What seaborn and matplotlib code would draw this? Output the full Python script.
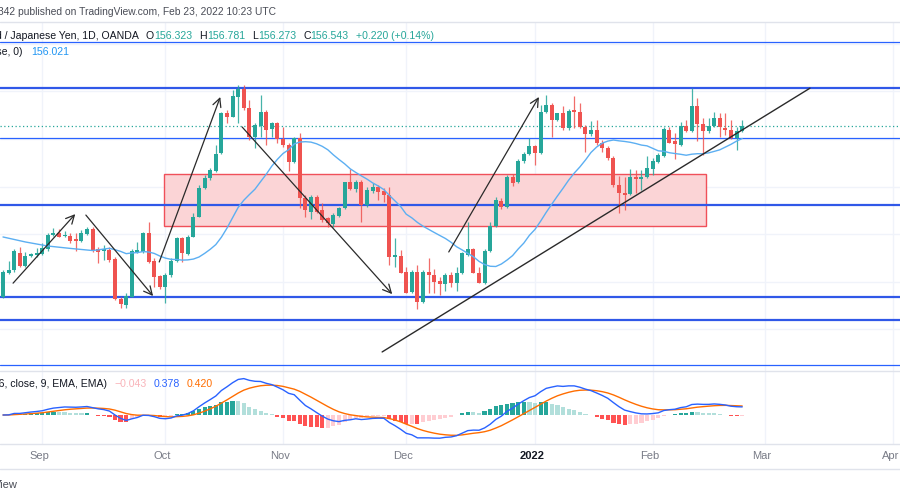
import numpy as np
import pandas as pd
import matplotlib.pyplot as plt
import matplotlib.transforms as mtransforms
from matplotlib.lines import Line2D
from matplotlib.patches import Rectangle
import seaborn as sns

# daily candles GBP/JPY, 23 Aug 2021 -> 23 Feb 2022
opens = [149.37, 150.38, 150.49, 151.22, 150.66, 151.08, 151.12, 151.16, 151.36, 151.96,
         152.03, 151.92, 151.92, 151.78, 151.72, 152.00, 152.20, 151.37, 151.29, 151.33,
         150.94, 149.26, 149.02, 149.37, 151.26, 151.26, 152.03, 150.87, 150.25, 149.76,
         150.28, 150.88, 151.82, 151.16, 151.89, 152.73, 153.93, 154.34, 154.66, 155.39,
         157.10, 156.93, 157.77, 158.08, 157.28, 156.09, 156.54, 157.14, 156.40, 156.65,
         155.98, 155.74, 155.04, 156.02, 153.50, 152.94, 153.57, 153.01, 152.66, 152.42,
         152.76, 153.08, 154.17, 153.88, 154.17, 153.22, 153.82, 153.96, 153.81, 153.64,
         151.05, 151.08, 150.42, 149.58, 150.42, 149.16, 150.42, 150.28, 150.03, 149.90,
         150.28, 149.93, 150.35, 151.12, 151.36, 150.38, 149.96, 151.30, 152.34, 153.40,
         153.15, 154.41, 154.20, 155.08, 155.36, 155.70, 155.42, 157.14, 157.42, 156.79,
         157.07, 156.44, 157.21, 157.14, 156.51, 156.20, 156.37, 155.84, 155.60, 155.18,
         154.06, 153.71, 153.68, 154.41, 154.32, 154.38, 154.72, 155.04, 155.28, 156.37,
         155.91, 155.74, 156.54, 156.34, 157.38, 156.61, 156.34, 156.55, 156.86, 156.47,
         156.37, 156.02, 156.323]
highs = [150.49, 150.88, 151.36, 151.47, 151.26, 151.22, 151.40, 151.61, 152.06, 152.24,
         152.20, 152.13, 152.03, 152.03, 152.17, 152.28, 152.31, 151.47, 151.54, 151.47,
         151.05, 149.37, 149.51, 151.36, 151.68, 152.10, 152.52, 150.98, 150.28, 150.35,
         150.98, 151.89, 151.89, 151.96, 152.87, 154.06, 154.48, 154.77, 155.74, 157.14,
         157.21, 158.05, 158.26, 158.26, 157.63, 156.65, 157.84, 157.21, 156.72, 156.72,
         156.51, 155.81, 156.09, 156.26, 153.64, 153.64, 153.64, 153.29, 152.73, 152.87,
         153.15, 154.20, 154.72, 154.27, 154.27, 153.99, 154.13, 154.06, 153.92, 153.99,
         151.82, 151.33, 150.63, 150.49, 150.70, 150.49, 150.98, 150.52, 150.18, 150.38,
         150.42, 150.63, 151.26, 152.52, 151.40, 150.63, 151.36, 152.52, 153.57, 153.50,
         154.48, 154.52, 155.14, 155.46, 156.02, 155.74, 157.42, 157.84, 157.49, 157.10,
         157.38, 157.24, 157.80, 157.52, 156.58, 156.76, 156.79, 155.95, 155.70, 155.28,
         154.44, 154.41, 154.72, 154.69, 154.69, 155.28, 155.18, 155.39, 156.51, 156.51,
         156.23, 156.72, 156.79, 158.12, 157.70, 156.86, 156.86, 157.14, 157.07, 157.07,
         156.79, 156.51, 156.781]
lows = [149.30, 150.32, 150.42, 150.60, 150.60, 151.02, 151.05, 151.12, 151.30, 151.92,
        151.86, 151.88, 151.61, 151.30, 151.68, 151.96, 151.26, 150.77, 150.91, 150.84,
        149.23, 148.88, 148.88, 149.34, 151.22, 151.19, 150.77, 149.79, 149.68, 149.12,
        150.21, 150.84, 150.84, 151.12, 151.86, 152.70, 153.89, 154.27, 154.62, 155.36,
        156.65, 156.90, 156.65, 157.21, 155.95, 155.60, 156.09, 155.74, 156.09, 155.81,
        155.67, 154.66, 155.00, 153.08, 152.73, 152.62, 152.87, 152.52, 152.31, 152.31,
        152.70, 153.04, 153.85, 153.78, 152.52, 153.15, 153.71, 153.43, 153.36, 150.70,
        150.63, 150.35, 149.51, 149.51, 148.84, 149.12, 149.51, 149.51, 149.44, 149.62,
        149.79, 149.62, 150.32, 151.08, 150.35, 149.93, 149.90, 151.26, 152.28, 153.04,
        153.08, 154.02, 154.13, 154.97, 155.31, 154.90, 155.36, 157.10, 156.09, 156.75,
        156.37, 156.37, 156.44, 156.44, 155.46, 156.12, 155.74, 155.46, 155.11, 153.96,
        152.90, 153.01, 153.64, 153.74, 153.85, 154.34, 154.48, 155.00, 155.25, 155.81,
        155.14, 155.70, 156.30, 156.30, 155.91, 155.32, 156.26, 156.51, 156.06, 156.16,
        155.98, 155.53, 156.273]
closes = [150.42, 150.49, 151.30, 150.66, 151.08, 151.16, 151.19, 151.40, 151.96, 152.03,
          151.89, 151.96, 151.72, 151.70, 152.03, 152.20, 151.33, 151.26, 151.38, 150.91,
          149.26, 149.06, 149.40, 151.29, 151.33, 152.03, 150.84, 150.21, 149.76, 150.28,
          150.87, 151.82, 151.19, 151.89, 152.73, 153.93, 154.35, 154.69, 155.36, 157.10,
          156.93, 157.80, 158.08, 157.28, 156.09, 156.58, 157.14, 156.37, 156.65, 155.98,
          155.74, 155.04, 156.02, 153.50, 153.01, 153.57, 152.94, 152.59, 152.45, 152.80,
          153.08, 154.17, 153.88, 154.20, 153.22, 153.85, 153.99, 153.78, 153.64, 151.05,
          151.12, 150.38, 149.54, 150.42, 149.16, 150.42, 150.28, 149.97, 149.90, 150.28,
          149.93, 150.38, 151.19, 151.36, 150.38, 149.96, 151.30, 152.34, 153.43, 153.15,
          154.41, 154.16, 155.08, 155.36, 155.70, 155.42, 157.14, 157.42, 156.79, 157.07,
          156.44, 157.18, 157.13, 156.51, 156.20, 156.37, 155.84, 155.60, 155.18, 154.06,
          153.71, 153.64, 154.38, 154.32, 154.41, 154.76, 155.08, 155.32, 156.40, 155.84,
          155.77, 156.54, 156.34, 157.38, 156.61, 156.34, 156.55, 156.86, 156.51, 156.37,
          156.02, 156.34, 156.543]

# MA(20) before 20 bars exist
ma_early_idx = [0, 4, 8, 12, 16]
ma_early = [151.88, 151.67, 151.50, 151.40, 151.31]

# drawings (bar index, price)
levels_thick = [158.13, 153.22, 149.36, 148.39]
levels_thin = [160.07, 156.04, 146.50]
zone_x = [28.75, 125.5]
zone_y = [152.34, 154.52]
trend_x = [67.7, 144.1]
trend_y = [147.05, 158.13]
arrows = [((1.8, 149.94), (12.9, 152.84)),
          ((14.8, 152.80), (26.8, 149.40)),
          ((27.9, 150.83), (38.8, 157.76)),
          ((42.7, 156.50), (69.5, 149.48)),
          ((79.6, 151.25), (95.7, 157.76))]

month_labels = ["Sep", "Oct", "Nov", "Dec", "2022", "Feb", "Mar", "Apr"]

df = pd.DataFrame({"open": opens, "high": highs, "low": lows, "close": closes})
df["idx"] = np.arange(len(df))
n = len(df)

df["ma"] = df["close"].rolling(20).mean()
ema12 = df["close"].ewm(span=12, adjust=False).mean()
ema26 = df["close"].ewm(span=26, adjust=False).mean()
df["macd"] = ema12 - ema26
df["signal"] = df["macd"].ewm(span=9, adjust=False).mean()
df["hist"] = df["macd"] - df["signal"]

dates = pd.bdate_range("2021-08-23", periods=n + 60)
month_pos = []
for k in range(1, len(dates)):
    if dates[k].month != dates[k - 1].month:
        month_pos.append(k)
month_pos = month_pos[:len(month_labels)]

sns.set_theme(style="white")
plt.rcParams["font.family"] = ["Liberation Sans", "DejaVu Sans"]

GREEN = "#26a69a"
RED = "#ef5350"
GRID = "#f0f3fa"
TXT = "#131722"

fig = plt.figure(figsize=(9, 5), dpi=100)
fig.patch.set_facecolor("white")
W, H = 900.0, 500.0


def fpos(x, y):
    return x / W, 1 - y / H


ax = fig.add_axes([0, 1 - 371 / H, 1, (371 - 22) / H])
axm = fig.add_axes([0, 1 - 444 / H, 1, (444 - 371) / H])

xlim = (-3 / 5.6, (W - 3) / 5.6)
for a in (ax, axm):
    a.set_xlim(*xlim)
    a.set_facecolor("white")
    for s in a.spines.values():
        s.set_visible(False)
    a.set_xticks([])
    a.set_yticks([])
    for p in month_pos:
        a.axvline(p, color=GRID, lw=1, zorder=0)

ax.set_ylim(146.25, 160.91)
for lv in np.arange(146, 161, 2):
    ax.axhline(lv, color=GRID, lw=1, zorder=0)

# zone
ax.add_patch(Rectangle((zone_x[0], zone_y[0]), zone_x[1] - zone_x[0], zone_y[1] - zone_y[0],
                       facecolor="#fbd4d6", edgecolor="#f0505a", lw=1, zorder=1))

for lv in levels_thick:
    ax.axhline(lv, color="#3058e8", lw=1.6, zorder=2)
for lv in levels_thin:
    ax.axhline(lv, color="#2962ff", lw=0.9, zorder=2)

# candles
up = df["close"] >= df["open"]
cols = np.where(up, GREEN, RED)
body_lo = np.minimum(df["open"], df["close"])
body_h = np.maximum(np.abs(df["close"] - df["open"]), 0.02)
ax.vlines(df["idx"], df["low"], df["high"], colors=cols, lw=0.9, alpha=0.85, zorder=3)
ax.bar(df["idx"], body_h, bottom=body_lo, width=0.72, color=cols, lw=0, zorder=4)

# moving average
ma_x = ma_early_idx + list(range(19, n))
ma_y = ma_early + list(df["ma"].iloc[19:])
sns.lineplot(x=ma_x, y=ma_y, ax=ax, color="#5caff2", lw=1.0, sort=False, zorder=5)

# last price
ax.axhline(closes[-1], color=GREEN, lw=0.9, ls=(0, (1, 2)), zorder=2)

# drawings
ax.plot(trend_x, trend_y, color="#2a2a2a", lw=1.0, zorder=6)
for (x0, y0), (x1, y1) in arrows:
    ax.annotate("", xy=(x1, y1), xytext=(x0, y0),
                arrowprops=dict(arrowstyle="->,head_length=0.5,head_width=0.25",
                                color="#2a2a2a", lw=0.9, shrinkA=0, shrinkB=0),
                zorder=6)

# MACD pane
axm.set_ylim(-(444 - 415) * 0.048, (415 - 371) * 0.048)
hist = df["hist"].values
hcols = []
for k in range(n):
    prev = hist[k - 1] if k > 0 else 0
    if hist[k] >= 0:
        hcols.append("#26a69a" if hist[k] > prev else "#b2dfdb")
    else:
        hcols.append("#ffcdd2" if hist[k] > prev else "#ff5252")
axm.bar(df["idx"], hist, width=0.75, color=hcols, lw=0, zorder=2)
sns.lineplot(data=df, x="idx", y="signal", ax=axm, color="#ff6d00", lw=1.0, zorder=3)
sns.lineplot(data=df, x="idx", y="macd", ax=axm, color="#2962ff", lw=1.0, zorder=4)
axm.set_xlabel("")
axm.set_ylabel("")
ax.set_xlabel("")
ax.set_ylabel("")

# frame lines
for yy in (22, 371, 444, 469):
    fig.add_artist(Line2D([0, 1], [1 - yy / H] * 2, color="#e0e3eb", lw=1))

# x labels (TradingView centres them a little left of the bar)
blend = mtransforms.blended_transform_factory(axm.transData, fig.transFigure)
shift = mtransforms.ScaledTranslation(-3 / 100, 0, fig.dpi_scale_trans)
for p, lab in zip(month_pos, month_labels):
    bold = lab == "2022"
    axm.text(p, 1 - 456 / H, lab, transform=blend + shift, ha="center", va="center",
             fontsize=8, color=TXT if bold else "#787b86",
             fontweight="bold" if bold else "normal", clip_on=False)

# header texts
fig.text(*fpos(-2.5, 12), "342 published on TradingView.com, Feb 23, 2022 10:23 UTC",
         fontsize=7.4, color="#4a4d57", va="center", ha="left")


def legend_row(y, first, anchor_x, segs, size=7.6):
    prev = fig.text(*fpos(anchor_x, y), first[0], color=first[1], fontsize=size,
                    va="center", ha="right")
    for txt, col, gap in segs:
        prev = fig.add_artist(plt.Annotation(txt, xy=(1, 0.5), xycoords=prev,
                                             xytext=(gap * 0.72, 0), textcoords="offset points",
                                             va="center", ha="left", color=col, fontsize=size))
    return prev


legend_row(36, ("British Pound / Japanese Yen, 1D, OANDA", TXT), 139,
           [("O", TXT, 7), ("156.323", GREEN, 0), ("H", TXT, 7), ("156.781", GREEN, 0),
            ("L", TXT, 7), ("156.273", GREEN, 0), ("C", TXT, 7), ("156.543", GREEN, 0),
            ("+0.220 (+0.14%)", GREEN, 7)])
legend_row(52, ("MA (20, close, 0)", TXT), 23, [("156.021", "#2196f3", 8)])
legend_row(384, ("MACD (12, 26, close, 9, EMA, EMA)", TXT), 107,
           [("\u22120.043", "#f9b4ba", 7), ("0.378", "#2962ff", 7), ("0.420", "#ff6d00", 7)])

fig.text(*fpos(-6, 485), "View", fontsize=8, color="#4a4d57", va="center", ha="left")

fig.savefig("out.png", dpi=100, facecolor="white")
